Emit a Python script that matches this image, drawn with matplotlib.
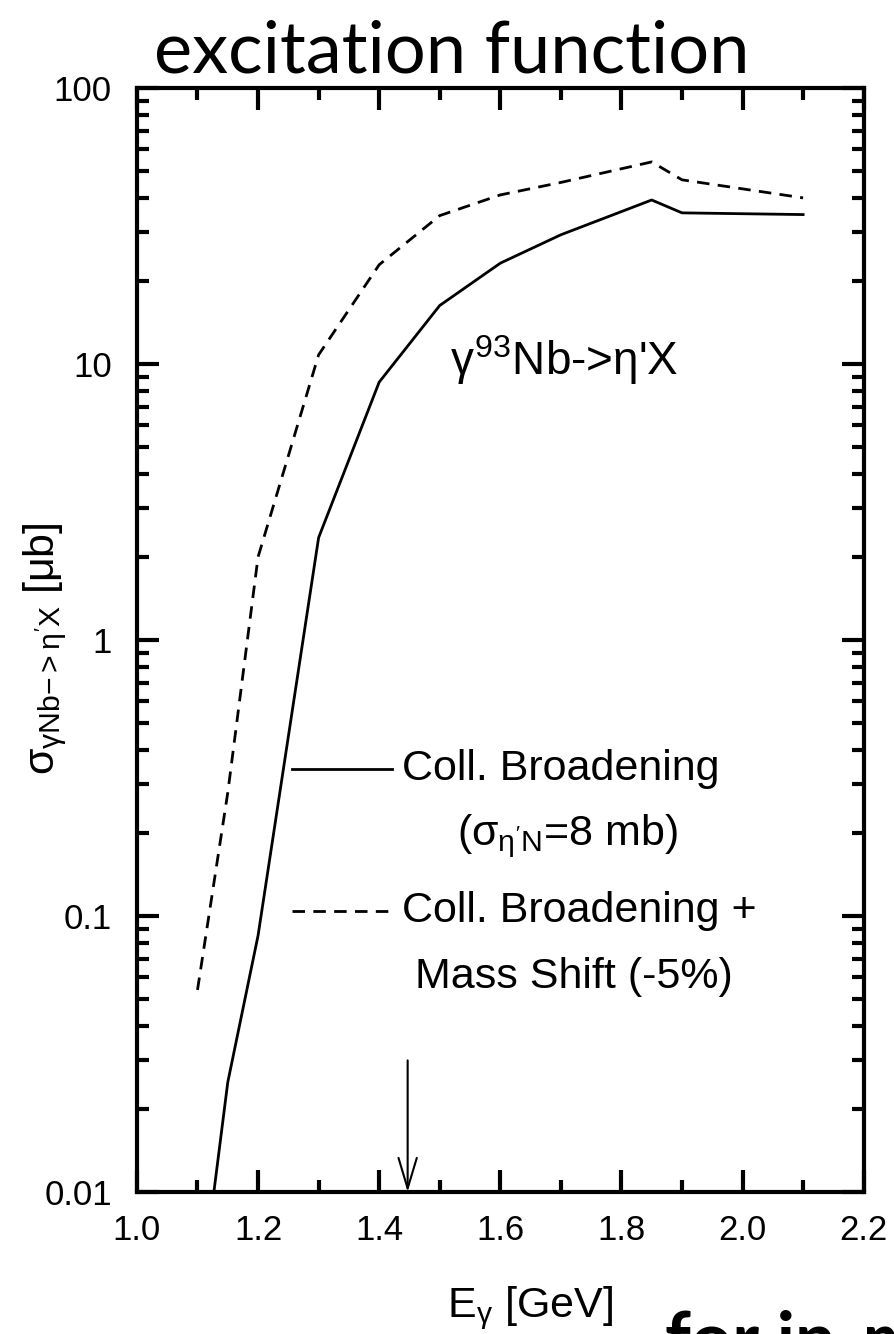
import numpy as np
import matplotlib
matplotlib.use('Agg')
from matplotlib import pyplot as plt
from matplotlib.ticker import LogLocator, MultipleLocator, FixedLocator, FixedFormatter, NullFormatter

plt.rcParams['font.family'] = ['Liberation Sans', 'DejaVu Sans']
plt.rcParams['mathtext.fontset'] = 'custom'
plt.rcParams['mathtext.rm'] = 'Liberation Sans'
plt.rcParams['mathtext.it'] = 'Liberation Sans'

# photon energy [GeV] and cross sections [mub]
e_coll = [1.10, 1.15, 1.20, 1.30, 1.40, 1.50, 1.60, 1.70, 1.85, 1.90, 2.10]
sig_coll = [0.0034, 0.025, 0.085, 2.35, 8.6, 16.3, 23.2, 29.4, 39.3, 35.3, 34.8]

e_shift = [1.10, 1.15, 1.20, 1.30, 1.40, 1.50, 1.60, 1.70, 1.85, 1.90, 2.10]
sig_shift = [0.054, 0.28, 2.0, 10.8, 22.9, 34.5, 41.0, 45.5, 54.0, 46.5, 40.0]

threshold = 1.447  # eta' production threshold on the free nucleon
arrow_top = 0.03

x_ticks = [1.0, 1.2, 1.4, 1.6, 1.8, 2.0, 2.2]
x_ticklabels = ['1.0', '1.2', '1.4', '1.6', '1.8', '2.0', '2.2']
y_ticks = [0.01, 0.1, 1, 10, 100]
y_ticklabels = ['0.01', '0.1', '1', '10', '100']

fig = plt.figure(figsize=(8.95, 13.34), dpi=100)
ax = fig.add_axes([0.153, 0.1064, 0.812, 0.8276])

dash = (0, (4.5, 3.0))
ax.plot(e_coll, sig_coll, color='black', lw=2.0)
ax.plot(e_shift, sig_shift, color='black', lw=2.0, linestyle=dash)

ax.annotate('', xy=(threshold, 0.01), xytext=(threshold, arrow_top),
            arrowprops=dict(arrowstyle='->,head_length=1.0,head_width=0.3',
                            lw=1.5, color='black', mutation_scale=22,
                            shrinkA=0, shrinkB=0))

ax.set_yscale('log')
ax.set_xlim(1.0, 2.2)
ax.set_ylim(0.01, 100)

ax.xaxis.set_major_locator(FixedLocator(x_ticks))
ax.xaxis.set_major_formatter(FixedFormatter(x_ticklabels))
ax.xaxis.set_minor_locator(MultipleLocator(0.1))
ax.yaxis.set_major_locator(FixedLocator(y_ticks))
ax.yaxis.set_major_formatter(FixedFormatter(y_ticklabels))
ax.yaxis.set_minor_locator(LogLocator(base=10, subs=np.arange(2, 10)))
ax.yaxis.set_minor_formatter(NullFormatter())

ax.tick_params(which='both', direction='in', top=True, right=True, width=3)
ax.tick_params(which='major', length=16, labelsize=25)
ax.tick_params(axis='x', which='major', pad=16)
ax.tick_params(axis='y', which='major', pad=18)
ax.tick_params(which='minor', length=8.5)
for s in ax.spines.values():
    s.set_linewidth(3)

# legend drawn by hand so the handles line up with the first line of each entry
ax.plot([0.213, 0.351], [0.383, 0.383], transform=ax.transAxes, color='black', lw=2.0)
ax.plot([0.213, 0.351], [0.255, 0.255], transform=ax.transAxes, color='black', lw=2.0,
        linestyle=dash)
ax.text(0.365, 0.383, 'Coll. Broadening', transform=ax.transAxes, fontsize=31,
        va='center', ha='left')
ax.text(0.592, 0.322, r"($\sigma_{\eta'\mathrm{N}}$=8 mb)", transform=ax.transAxes,
        fontsize=31, va='center', ha='center')
ax.text(0.365, 0.255, 'Coll. Broadening +', transform=ax.transAxes, fontsize=31,
        va='center', ha='left')
ax.text(0.601, 0.195, 'Mass Shift (-5%)', transform=ax.transAxes, fontsize=31,
        va='center', ha='center')

ax.text(0.431, 0.740, r"$\gamma^{93}$Nb->$\eta$'X", transform=ax.transAxes,
        fontsize=33, va='baseline', ha='left')

fig.text(0.05, 0.514, r"$\sigma_{\gamma \mathrm{Nb}\mathrm{->}\eta'\mathrm{X}}$ [$\mu$b]",
         rotation=90, fontsize=31, va='center', ha='center')
fig.text(0.592, 0.013, r"E$_\gamma$ [GeV]", fontsize=31, va='baseline', ha='center')

fig.text(0.505, 0.946, 'excitation function', family=['Lato', 'DejaVu Sans'],
         fontsize=52, ha='center', va='baseline')
fig.text(0.743, -0.022, 'for in-medium', family=['Lato', 'DejaVu Sans'],
         fontweight='bold', fontsize=52, ha='left', va='baseline')

fig.savefig('out.png', dpi=100)
